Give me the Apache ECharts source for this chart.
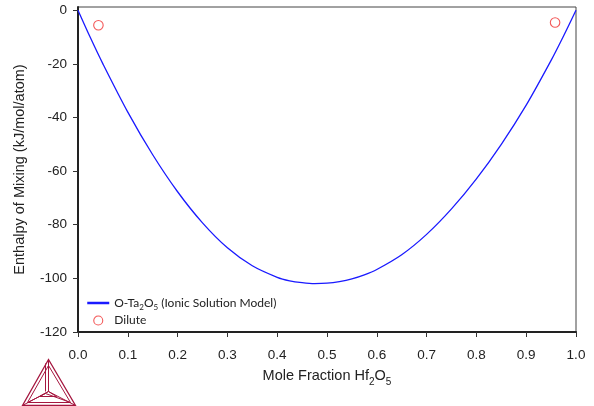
<!DOCTYPE html>
<html><head><meta charset="utf-8">
<script src="https://cdn.jsdelivr.net/npm/echarts@6/dist/echarts.min.js"></script>
<style>html,body{margin:0;padding:0;background:#fff}#c{width:594px;height:406px}</style>
</head><body><div id="c"></div>
<script>
// Data
const xValues = [0, 0.025, 0.05, 0.10, 0.15, 0.20, 0.25, 0.30, 0.35, 0.40, 0.425, 0.45, 0.475, 0.50, 0.525, 0.55, 0.575, 0.60, 0.65, 0.70, 0.75, 0.80, 0.85, 0.90, 0.95, 0.975, 1.0];
const ionicValues = [0, -10.3, -20.0, -38.0, -53.9, -67.7, -79.3, -88.6, -95.3, -99.6, -100.9, -101.6, -101.95, -101.8, -101.2, -100.2, -98.7, -96.7, -91.2, -83.6, -74.1, -62.9, -50.0, -35.4, -18.7, -9.6, 0];
const diluteX = [0.041, 0.958];
const diluteY = [-5.6, -4.6];
const xTicks = [0, 0.1, 0.2, 0.3, 0.4, 0.5, 0.6, 0.7, 0.8, 0.9, 1.0];
const yTicks = [-120, -100, -80, -60, -40, -20, 0];

const chart = echarts.init(document.getElementById('c'), null, {renderer: 'canvas'});
const font = 'Liberation Sans, Arial, sans-serif';
const subRich = {
  sub: {fontSize: 10, fontFamily: font, color: '#222', verticalAlign: 'bottom', lineHeight: 22},
  n: {fontSize: 14.5, fontFamily: font, color: '#222', lineHeight: 17}
};
const legRich = {
  t: {fontSize: 12, fontFamily: 'Lato, sans-serif', color: '#222', lineHeight: 14},
  s: {fontSize: 8, fontFamily: 'Lato, sans-serif', color: '#222', verticalAlign: 'bottom', lineHeight: 17}
};
const tri = '#a5163f';
chart.setOption({
  animation: false,
  backgroundColor: '#fff',
  grid: {left: 78, right: 18, top: 7, bottom: 74, show: true, borderColor: '#444', borderWidth: 1, containLabel: false},
  xAxis: {
    type: 'value', min: 0, max: 1, interval: 0.1,
    name: '{n|Mole Fraction Hf}{sub|2}{n|O}{sub|5}', nameLocation: 'middle', nameGap: 33,
    nameTextStyle: {rich: subRich},
    axisLine: {show: true, onZero: false, lineStyle: {color: '#222', width: 2}},
    axisTick: {show: true, inside: false, length: 5, lineStyle: {color: '#333', width: 1}, customValues: xTicks},
    axisLabel: {margin: 16, fontSize: 13.5, fontFamily: font, color: '#222', customValues: xTicks, formatter: v => v.toFixed(1)},
    splitLine: {show: false}
  },
  yAxis: {
    type: 'value', min: -120, max: 1.2,
    name: 'Enthalpy of Mixing (kJ/mol/atom)', nameLocation: 'middle', nameGap: 51,
    nameTextStyle: {fontSize: 14.5, fontFamily: font, color: '#222'},
    axisLine: {show: true, onZero: false, lineStyle: {color: '#222', width: 2}},
    axisTick: {show: true, inside: false, length: 5, lineStyle: {color: '#333', width: 1}, customValues: yTicks},
    axisLabel: {margin: 11, fontSize: 13.5, fontFamily: font, color: '#222', customValues: yTicks},
    splitLine: {show: false}
  },
  legend: {
    orient: 'vertical', left: 86, top: 297, padding: 0, itemWidth: 22, itemHeight: 9, itemGap: 3,
    textStyle: {rich: legRich},
    formatter: name => name === 'ionic' ? '{t|O-Ta}{s|2}{t|O}{s|5}{t| (Ionic Solution Model)}' : '{t|Dilute}',
    data: [
      {name: 'ionic', itemStyle: {color: 'rgba(0,0,0,0)', borderWidth: 0, opacity: 0}, lineStyle: {color: '#1a1aff', width: 2.5}},
      {name: 'dilute', icon: 'circle', itemStyle: {color: 'rgba(0,0,0,0)', borderColor: '#f03030', borderWidth: 1.1}}
    ]
  },
  series: [
    {
      name: 'ionic', type: 'line', smooth: 0.3, symbol: 'none', showSymbol: false,
      lineStyle: {color: '#1a1aff', width: 1.3}, itemStyle: {color: '#1a1aff'},
      data: xValues.map((x, i) => [x, ionicValues[i]])
    },
    {
      name: 'dilute', type: 'scatter', symbol: 'circle', symbolSize: 9.5,
      itemStyle: {color: 'rgba(0,0,0,0)', borderColor: '#f03030', borderWidth: 1.1},
      data: diluteX.map((x, i) => [x, diluteY[i]])
    }
  ],
  graphic: [{
    type: 'group', left: 20, top: 357, silent: true,
    children: [
      {type: 'polygon', shape: {points: [[26, 0], [0, 46], [53, 46]]}, style: {fill: 'none', stroke: tri, lineWidth: 1.3}},
      {type: 'polygon', shape: {points: [[26, 6], [5, 43], [48, 43]]}, style: {fill: 'none', stroke: tri, lineWidth: 1}},
      {type: 'polyline', shape: {points: [[26, 0], [26, 32]]}, style: {stroke: tri, lineWidth: 1}},
      {type: 'polyline', shape: {points: [[23, 4], [23, 32]]}, style: {stroke: tri, lineWidth: 1}},
      {type: 'polyline', shape: {points: [[0, 46], [26, 32], [53, 46]]}, style: {stroke: tri, lineWidth: 1}},
      {type: 'polyline', shape: {points: [[5, 43], [23, 34], [48, 43]]}, style: {stroke: tri, lineWidth: 1}},
      {type: 'polygon', shape: {points: [[26, 32], [17, 37], [34, 37]]}, style: {fill: 'none', stroke: tri, lineWidth: 1}}
    ]
  }]
});
</script></body></html>
